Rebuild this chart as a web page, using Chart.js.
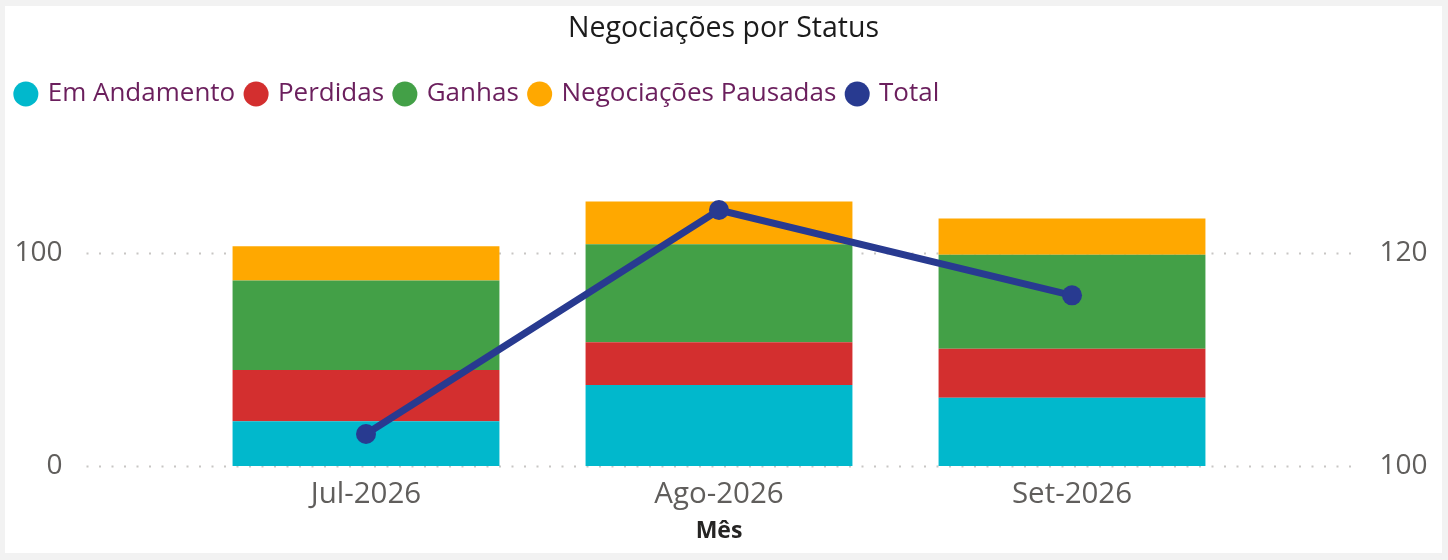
<!DOCTYPE html>
<html>
<head>
<meta charset="utf-8">
<script src="https://cdn.jsdelivr.net/npm/chart.js@4"></script>
<style>
  html, body { margin: 0; padding: 0; background: #f2f2f2; }
  #card { position: absolute; left: 5px; top: 6px; width: 1437px; height: 547px; background: #fff; }
  #statusChart { display: block; }
</style>
</head>
<body>
<div id="card"><canvas id="statusChart" width="1437" height="547"></canvas></div>
<script>
const meses = ['Jul-2026', 'Ago-2026', 'Set-2026'];
const emAndamento = [21, 38, 32];
const perdidas = [24, 20, 23];
const ganhas = [42, 46, 44];
const pausadas = [16, 20, 17];
const total = [103, 124, 116];

const FONT = "'Segoe UI', 'Open Sans', sans-serif";

// Power BI style dotted gridlines, running past the plot area
const dottedGrid = {
    id: 'dottedGrid',
    beforeDatasetsDraw(chart) {
        const { ctx, chartArea, scales } = chart;
        ctx.save();
        ctx.strokeStyle = '#c8c6c4';
        ctx.lineWidth = 2;
        ctx.setLineDash([2, 10.5]);
        scales.y.ticks.forEach(t => {
            const y = Math.round(scales.y.getPixelForValue(t.value)) + 0.5;
            ctx.beginPath();
            ctx.moveTo(chartArea.left - 103, y);
            ctx.lineTo(chartArea.right + 110, y);
            ctx.stroke();
        });
        ctx.restore();
    }
};

// the plot starts lower than title+legend end; pull the header back up
const liftHeader = {
    id: 'liftHeader',
    afterLayout(chart, args, opts) {
        [chart.titleBlock, chart.legend].forEach(b => {
            if (!b) return;
            b.top -= opts.by;
            b.bottom -= opts.by;
        });
    }
};

// fixed axis width; plot top fixed too
const fitY = (w) => (s) => {
    s.width = w;
    s.paddingTop = 140;
    s.paddingBottom = 0;
};

const barDs = (label, data, color) => ({
    type: 'bar', label, data,
    backgroundColor: color, borderWidth: 0,
    stack: 's', yAxisID: 'y', order: 1,
    categoryPercentage: 1, barPercentage: 0.756
});

new Chart(document.getElementById('statusChart').getContext('2d'), {
    data: {
        labels: meses,
        datasets: [
            barDs('Em Andamento', emAndamento, '#01b8cc'),
            barDs('Perdidas', perdidas, '#d32f2f'),
            barDs('Ganhas', ganhas, '#43a047'),
            barDs('Negociações Pausadas', pausadas, '#ffa800'),
            {
                type: 'line', label: 'Total', data: total, yAxisID: 'y1', order: 0,
                borderColor: '#283a90', backgroundColor: '#283a90',
                borderWidth: 7, pointRadius: 10, pointHoverRadius: 10,
                pointBorderWidth: 0, tension: 0
            }
        ]
    },
    options: {
        responsive: false,
        animation: false,
        layout: { padding: 0 },
        plugins: {
            liftHeader: { by: 29 },
            title: {
                display: true, text: 'Negociações por Status', color: '#1b1b1b',
                font: { family: FONT, size: 28.5, weight: 'normal' },
                padding: { top: 4, bottom: 23 }
            },
            legend: {
                position: 'top', align: 'start',
                labels: {
                    usePointStyle: true, pointStyle: 'circle',
                    boxHeight: 17.7, boxWidth: 17.7,
                    color: '#6b1f5d', padding: 12,
                    font: { family: FONT, size: 26 },
                    sort: (a, b) => a.datasetIndex - b.datasetIndex
                }
            },
            tooltip: { enabled: false }
        },
        scales: {
            x: {
                grid: { display: false, drawTicks: false },
                border: { display: false },
                ticks: { color: '#605e5c', font: { family: FONT, size: 29.5 }, padding: 11 },
                title: {
                    display: true, text: 'Mês', color: '#252423',
                    font: { family: FONT, size: 23, weight: 'bold' },
                    padding: { top: 0, bottom: 8 }
                },
                afterFit: s => { s.height = 87; }
            },
            y: {
                position: 'left', min: 0, max: 150,
                grid: { display: false, drawTicks: false },
                border: { display: false },
                ticks: { stepSize: 100, includeBounds: false, color: '#605e5c', font: { family: FONT, size: 28 }, padding: 127 },
                afterFit: fitY(184.5)
            },
            y1: {
                position: 'right', min: 100, max: 130,
                grid: { display: false, drawTicks: false },
                border: { display: false },
                ticks: { stepSize: 20, includeBounds: false, color: '#605e5c', font: { family: FONT, size: 28 }, padding: 131 },
                afterFit: fitY(193.5)
            }
        }
    },
    plugins: [dottedGrid, liftHeader]
});
</script>
</body>
</html>
